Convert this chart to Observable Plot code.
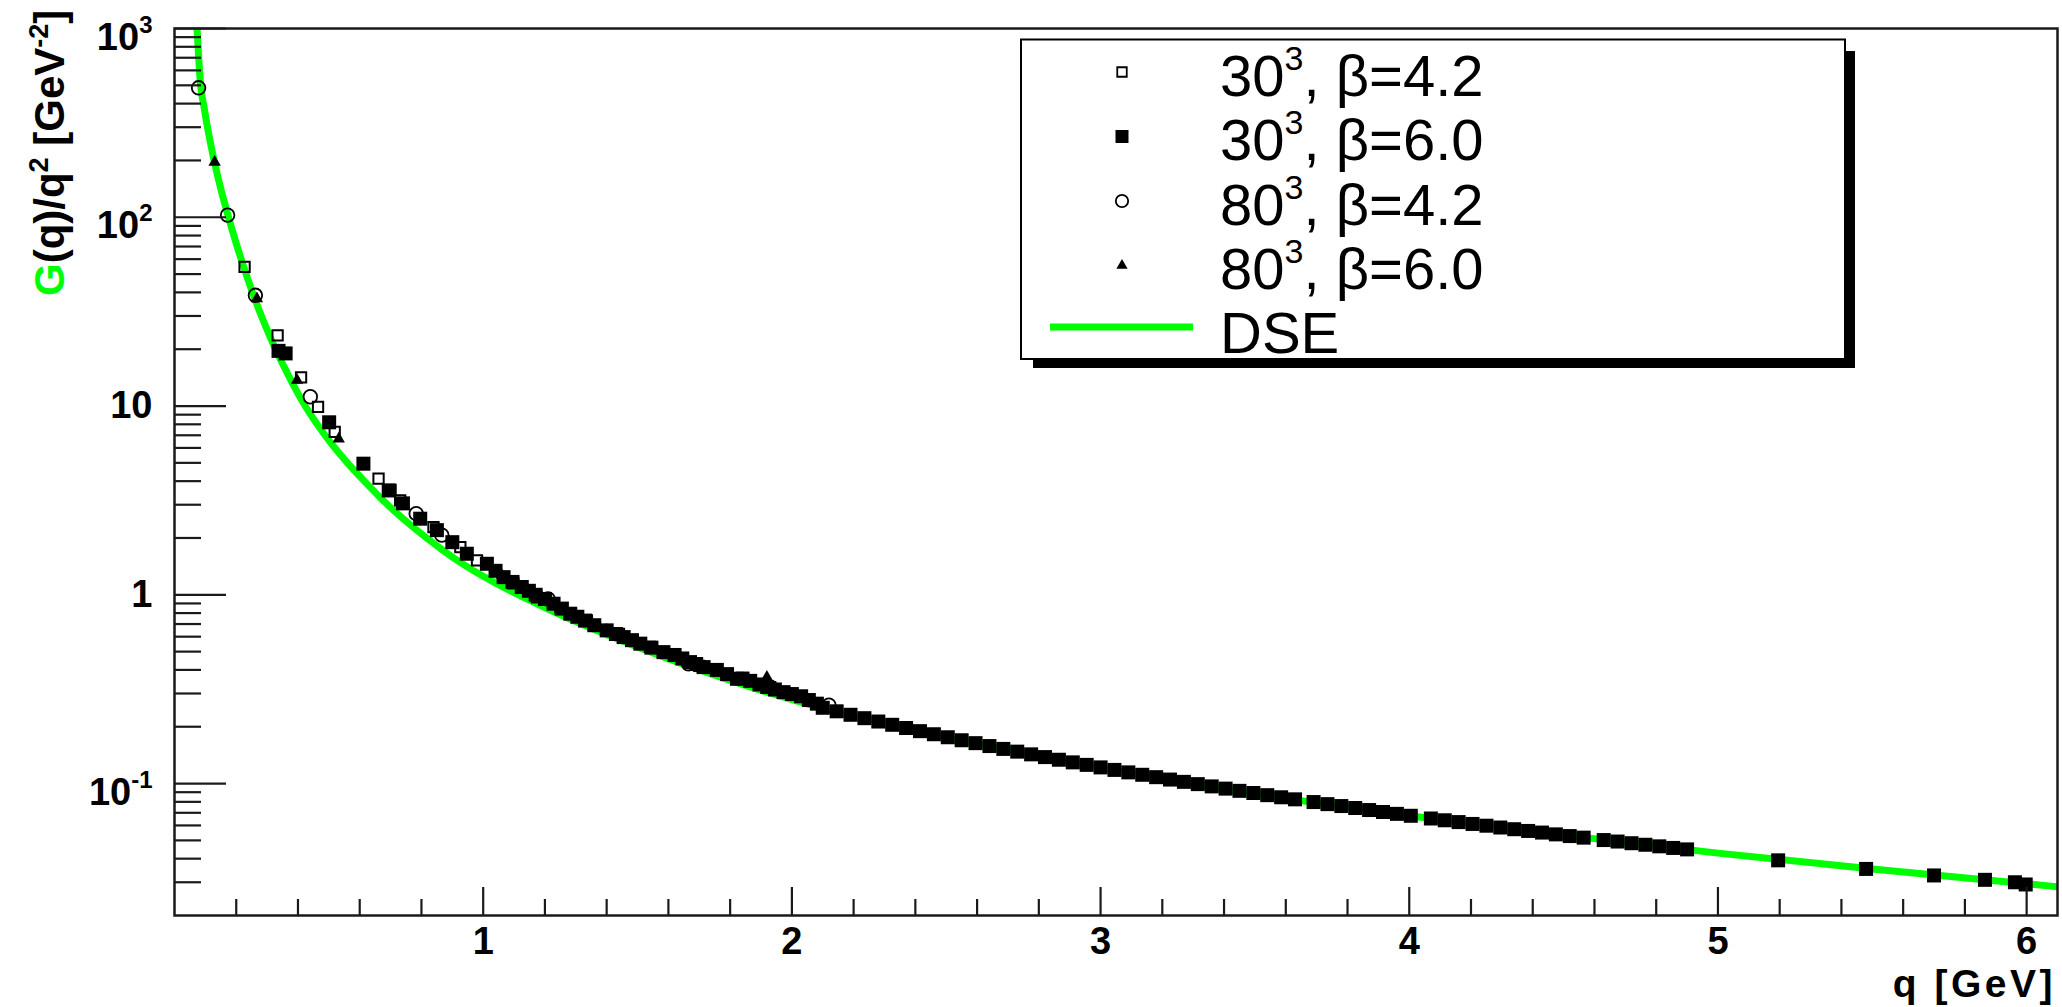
<!DOCTYPE html>
<html><head><meta charset="utf-8">
<script src="https://cdn.jsdelivr.net/npm/d3@7"></script>
<script src="https://cdn.jsdelivr.net/npm/@observablehq/plot@0.6"></script>
<style>html,body{margin:0;padding:0;background:#fff;}#chart svg{display:block}</style>
</head><body><div id="chart"></div>
<script>
// ---- DSE curve ----
const dseQ = [0.068, 0.073, 0.078, 0.084, 0.095, 0.11, 0.128, 0.148, 0.175, 0.2, 0.224, 0.25, 0.278, 0.31, 0.353, 0.418, 0.483, 0.5046, 0.569, 0.612, 0.667, 0.683, 0.774, 0.87, 0.904, 0.936, 1.0, 1.045, 1.152, 1.196, 1.368, 1.584, 1.8, 2.125, 2.5, 3.0, 3.5, 4.0, 4.5, 5.0, 5.5, 6.1];
const dseV = [1400, 1000, 720, 512, 389, 281, 201, 145.6, 100, 72.6, 54.7, 41.1, 31.0, 23.2, 16.4, 10.35, 7.18, 6.44, 4.82, 4.05, 3.27, 3.08, 2.275, 1.72, 1.57, 1.45, 1.253, 1.143, 0.933, 0.861, 0.647, 0.468, 0.352, 0.244, 0.1757, 0.122, 0.0885, 0.0675, 0.0533, 0.0428, 0.0353, 0.0284];

// ---- 30^3, beta=4.2 (open squares) ----
const q30b42 = [0.227, 0.334, 0.41, 0.465, 0.519, 0.661, 0.70, 0.731, 0.839, 0.926, 0.98, 1.098, 1.174, 1.25, 1.336, 1.44, 1.54, 1.70, 1.93];
const v30b42 = [54.6, 23.7, 14.2, 9.9, 7.3, 4.12, 3.6, 3.16, 2.28, 1.79, 1.52, 1.15, 0.97, 0.85, 0.731, 0.62, 0.53, 0.42, 0.324];

// ---- 30^3, beta=6.0 (filled squares) ----
const q30b60 = [0.337, 0.36, 0.501, 0.612, 0.694, 0.74, 0.796, 0.85, 0.90, 0.947, 1.012, 1.04, 1.066, 1.095, 1.125, 1.148, 1.17, 1.20, 1.228, 1.255, 1.282, 1.305, 1.33, 1.36, 1.40, 1.43, 1.455, 1.482, 1.509, 1.545, 1.584, 1.62, 1.645, 1.67, 1.69, 1.714, 1.757, 1.79, 1.822, 1.84, 1.865, 1.895, 1.92, 1.945, 1.973, 2.0, 2.03, 2.055, 2.081,
  2.10, 2.145, 2.19, 2.235, 2.28, 2.325, 2.37, 2.415, 2.46, 2.505, 2.55, 2.595, 2.64, 2.685, 2.73, 2.775, 2.82, 2.865, 2.91, 2.955,
  3.00, 3.045, 3.09, 3.135, 3.18, 3.225, 3.27, 3.315, 3.36, 3.405, 3.45, 3.495, 3.54, 3.585, 3.63, 3.69, 3.735, 3.78, 3.825, 3.87, 3.915, 3.96,
  4.005, 4.07, 4.115, 4.16, 4.205, 4.25, 4.295, 4.34, 4.385, 4.43, 4.475, 4.52, 4.565, 4.63, 4.675, 4.72, 4.765, 4.81, 4.855, 4.90,
  5.195, 5.48, 5.70, 5.865, 5.962, 5.997];
const v30b60 = [19.6, 19.0, 8.2, 4.95, 3.57, 3.05, 2.53, 2.2, 1.9, 1.65, 1.46, 1.34, 1.24, 1.17, 1.10, 1.05, 1.0, 0.95, 0.897, 0.845, 0.794, 0.765, 0.73, 0.69, 0.648, 0.62, 0.597, 0.575, 0.551, 0.525, 0.497, 0.48, 0.46, 0.44, 0.43, 0.414, 0.40, 0.38, 0.359, 0.36, 0.35, 0.335, 0.325, 0.315, 0.305, 0.298, 0.29, 0.277, 0.265,
  0.2520, 0.2414, 0.2314, 0.2220, 0.2131, 0.2048, 0.1969, 0.1895, 0.1825, 0.1759, 0.1696, 0.1637, 0.1580, 0.1526, 0.1476, 0.1428, 0.1381, 0.1337, 0.1295, 0.1256,
  0.1218, 0.1181, 0.1146, 0.1113, 0.1081, 0.1050, 0.1021, 0.0993, 0.0966, 0.0940, 0.0915, 0.0891, 0.0868, 0.0846, 0.0825, 0.0798, 0.0778, 0.0760, 0.0742, 0.0724, 0.0707, 0.0691,
  0.0675, 0.0653, 0.0639, 0.0625, 0.0611, 0.0598, 0.0585, 0.0573, 0.0561, 0.0550, 0.0538, 0.0527, 0.0517, 0.0502, 0.0493, 0.0483, 0.0474, 0.0465, 0.0456, 0.0448,
  0.0392, 0.0353, 0.0326, 0.0309, 0.0300, 0.0292];

// ---- 80^3, beta=4.2 (open circles) ----
const q80b42 = [0.078, 0.172, 0.262, 0.44, 0.783, 0.866, 1.21, 1.665, 2.12];
const v80b42 = [485, 102.6, 38.6, 11.2, 2.69, 2.07, 0.95, 0.431, 0.26];

// ---- 80^3, beta=6.0 (filled triangles) ----
const q80b60 = [0.130, 0.267, 0.397, 0.532, 0.80, 1.06, 1.40, 1.919];
const v80b60 = [196, 37, 13.7, 6.7, 2.5, 1.27, 0.65, 0.366];

// ---- ticks ----
const xMajor = [1, 2, 3, 4, 5, 6];
const xMinor = [0.2, 0.4, 0.6, 0.8, 1.2, 1.4, 1.6, 1.8, 2.2, 2.4, 2.6, 2.8, 3.2, 3.4, 3.6, 3.8, 4.2, 4.4, 4.6, 4.8, 5.2, 5.4, 5.6, 5.8];
const yMajor = [0.1, 1, 10, 100, 1000];
const yMajorLabels = ["10^-1", "1", "10", "10^2", "10^3"];
const yMinor = [0.03, 0.04, 0.05, 0.06, 0.07, 0.08, 0.09, 0.2, 0.3, 0.4, 0.5, 0.6, 0.7, 0.8, 0.9, 2, 3, 4, 5, 6, 7, 8, 9, 20, 30, 40, 50, 60, 70, 80, 90, 200, 300, 400, 500, 600, 700, 800, 900];

// ---- legend ----
const legendBase = ["30", "30", "80", "80"];
const legendSup = ["3", "3", "3", "3"];
const legendRest = [", β=4.2", ", β=6.0", ", β=4.2", ", β=6.0"];
const legendLine = "DSE";

const zip = (qs, vs) => qs.map((q, i) => ({q, v: vs[i]}));
const dse = zip(dseQ, dseV);
const s30b42 = zip(q30b42, v30b42);
const s30b60 = zip(q30b60, v30b60);
const s80b42 = zip(q80b42, v80b42);
const s80b60 = zip(q80b60, v80b60);

const W = 2062, H = 1007, mL = 174, mR = 5, mT = 28, mB = 92;
const iW = W - mL - mR, iH = H - mT - mB;
const GREEN = "#00ff00";
const AX = "#1a1a1a";
const FONT = "'Liberation Sans', Arial, Helvetica, sans-serif";

const chart = Plot.plot({
  width: W, height: H,
  marginLeft: mL, marginRight: mR, marginTop: mT, marginBottom: mB,
  style: {fontFamily: FONT, background: "#fff", color: "#000"},
  x: {domain: [0, 6.1]},
  y: {type: "log", domain: [0.02, 1000]},
  marks: [
    Plot.line(dse, {x: "q", y: "v", stroke: GREEN, strokeWidth: 7, curve: "monotone-x", clip: true}),
    Plot.dot(s30b60, {x: "q", y: "v", symbol: "square", r: 7.9, fill: "#000", stroke: "none"}),
    Plot.dot(s80b60, {x: "q", y: "v", symbol: "triangle", r: 4.6, fill: "#000", stroke: "none"}),
    Plot.dot(s30b42, {x: "q", y: "v", symbol: "square", r: 5.8, fill: "none", stroke: "#000", strokeWidth: 2}),
    Plot.dot(s80b42, {x: "q", y: "v", symbol: "circle", r: 6.8, fill: "none", stroke: "#000", strokeWidth: 1.8}),
    Plot.tickY(yMajor, {y: d => d, insetRight: iW - 52, stroke: AX, strokeWidth: 2.2}),
    Plot.tickY(yMinor, {y: d => d, insetRight: iW - 27, stroke: AX, strokeWidth: 2.2}),
    Plot.tickX(xMajor, {x: d => d, insetTop: iH - 28, stroke: AX, strokeWidth: 2.2}),
    Plot.tickX(xMinor, {x: d => d, insetTop: iH - 16, stroke: AX, strokeWidth: 2.2}),
    Plot.frame({stroke: AX, strokeWidth: 2.5}),
    Plot.axisX({ticks: xMajor, tickSize: 0, tickPadding: 12, tickFormat: d => String(d), label: null, fontSize: 38, fontWeight: "bold"}),
    Plot.axisY({ticks: yMajor, tickSize: 0, tickPadding: 22, tickFormat: d => yMajorLabels[yMajor.indexOf(d)], label: null, fontSize: 38, fontWeight: "bold"})
  ]
});
document.getElementById("chart").appendChild(chart);

const svg = d3.select(chart);
svg.selectAll("text").attr("fill", "#000");

// superscripts in y tick labels
svg.selectAll('g[aria-label="y-axis tick label"] text').each(function () {
  const t = d3.select(this);
  const s = t.text();
  if (s.includes("^")) {
    const [base, sup] = s.split("^");
    t.text(null);
    t.append("tspan").attr("dy", 9).text(base);
    t.append("tspan").attr("dy", -17).attr("font-size", 24).text(sup);
  }
});

// y-axis title
const yt = svg.append("text")
  .attr("transform", "translate(64,296) rotate(-90)")
  .attr("text-anchor", "start")
  .attr("font-family", FONT).attr("font-size", 42).attr("font-weight", "bold").attr("fill", "#000");
yt.append("tspan").attr("fill", GREEN).text("G");
yt.append("tspan").text("(q)/q");
yt.append("tspan").attr("dy", -16).attr("font-size", 27).text("2");
yt.append("tspan").attr("dy", 16).text(" [GeV");
yt.append("tspan").attr("dy", -16).attr("font-size", 27).text("-2");
yt.append("tspan").attr("dy", 16).text("]");

// x-axis title
svg.append("text")
  .attr("x", 2056).attr("y", 997).attr("text-anchor", "end")
  .attr("font-family", FONT).attr("font-size", 39).attr("font-weight", "bold")
  .attr("letter-spacing", 3.5).attr("fill", "#000")
  .text("q [GeV]");

// legend
const lg = svg.append("g").attr("text-anchor", "start");
lg.append("rect").attr("x", 1033).attr("y", 51).attr("width", 822).attr("height", 317).attr("fill", "#000");
lg.append("rect").attr("x", 1021).attr("y", 39.5).attr("width", 824).attr("height", 319.5)
  .attr("fill", "#fff").attr("stroke", "#000").attr("stroke-width", 2);
const symX = 1122;
const rowY = i => 72 + 64.5 * i;
const syms = [
  {type: d3.symbolSquare, size: 90, fill: "#fff", stroke: "#000"},
  {type: d3.symbolSquare, size: 169, fill: "#000", stroke: "none"},
  {type: d3.symbolCircle, size: 120, fill: "#fff", stroke: "#000"},
  {type: d3.symbolTriangle, size: 55, fill: "#000", stroke: "none"}
];
syms.forEach((s, i) => {
  lg.append("path").attr("d", d3.symbol(s.type, s.size)())
    .attr("transform", `translate(${symX},${rowY(i)})`)
    .attr("fill", s.fill).attr("stroke", s.stroke).attr("stroke-width", 1.8);
  const t = lg.append("text").attr("x", 1220).attr("y", rowY(i) + 23.5).attr("text-anchor", "start")
    .attr("font-family", FONT).attr("font-size", 58).attr("fill", "#000");
  t.append("tspan").text(legendBase[i]);
  t.append("tspan").attr("dy", -26).attr("font-size", 34).text(legendSup[i]);
  t.append("tspan").attr("dy", 26).text(legendRest[i]);
});
lg.append("line").attr("x1", 1050).attr("x2", 1193).attr("y1", 327).attr("y2", 327)
  .attr("stroke", GREEN).attr("stroke-width", 7);
lg.append("text").attr("x", 1220).attr("y", 353).attr("text-anchor", "start").attr("font-family", FONT).attr("font-size", 58)
  .attr("fill", "#000").text(legendLine);
</script>
</body></html>
